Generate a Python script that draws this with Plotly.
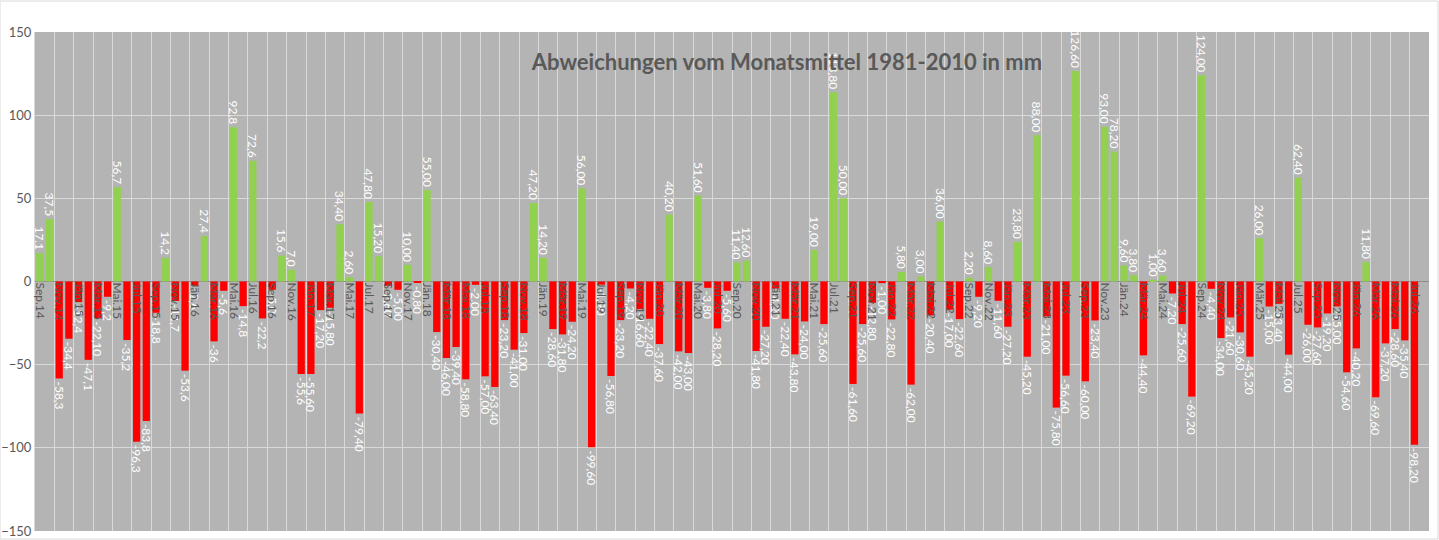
import plotly.graph_objects as go

# Monatsnamen (österreichisch)
monate = ["Jän", "Feb", "Mär", "Apr", "Mai", "Jun", "Jul", "Aug", "Sep", "Okt", "Nov", "Dez"]

# Abweichungen vom Monatsmittel 1981-2010 in mm
werte_2014 = [17.1, 37.5, -58.3, -34.4]  # ab Sep
werte_2015 = [-12.4, -47.1, -22.1, -9.2, 56.7, -35.2, -96.3, -83.8, -18.8, 14.2, -11.7, -53.6]
werte_2016 = [-2.6, 27.4, -36.0, -5.6, 92.8, -14.8, 72.6, -22.2, -5.0, 15.6, 7.0, -55.6]
werte_2017 = [-55.6, -17.2, -15.8, 34.4, 2.6, -79.4, 47.8, 15.2, -2.6, -5.0, 10.0, -0.8]
werte_2018 = [55.0, -30.4, -46.0, -39.4, -58.8, -2.0, -57.0, -63.4, -23.2, -41.0, -31.0, 47.2]
werte_2019 = [14.2, -28.6, -31.8, -24.2, 56.0, -99.6, -1.9, -56.8, -23.2, -4.2, -16.6, -22.4]
werte_2020 = [-37.6, 40.2, -42.0, -43.0, 51.6, -3.8, -28.2, -5.6, 11.4, 12.6, -41.8, -27.2]
werte_2021 = [-4.2, -22.4, -43.8, -24.0, 19.0, -25.6, 113.8, 50.0, -61.6, -25.6, -12.8, -1.0]
werte_2022 = [-22.8, 5.8, -62.0, 3.0, -20.4, 36.0, -17.0, -22.6, 2.2, -9.2, 8.6, -11.6]
werte_2023 = [-27.2, 23.8, -45.2, 88.0, -21.0, -75.8, -56.6, 126.6, -60.0, -23.4, 93.0, 78.2]
werte_2024 = [9.6, 3.8, -44.4, 1.0, 3.6, -7.2, -25.6, -69.2, 124.0, -4.4, -34.0, -21.6]
werte_2025 = [-30.6, -45.2, 26.0, -15.0, -13.4, -44.0, 62.4, -26.0, -27.6, -19.2, -15.0, -54.6]
werte_2026 = [-40.2, 11.8, -69.6, -37.2, -28.6, -35.4, -98.2]  # bis Jul

werte = (werte_2014 + werte_2015 + werte_2016 + werte_2017 + werte_2018 + werte_2019
         + werte_2020 + werte_2021 + werte_2022 + werte_2023 + werte_2024 + werte_2025 + werte_2026)

# Kategorien Sep.14 .. Aug.26 (letzter Monat noch leer)
kategorien = []
for i in range(144):
    m = (8 + i) % 12
    j = 14 + (8 + i) // 12
    kategorien.append(f"{monate[m]}.{j}")

# Beschriftung: bis Dez.16 eine Nachkommastelle, danach zwei
nachkomma = [1] * 28 + [2] * (len(werte) - 28)
sonder = {6: "-22,10", 18: "-36"}
beschriftung = []
for i, v in enumerate(werte):
    if i in sonder:
        beschriftung.append(sonder[i])
    else:
        beschriftung.append(f"{v:.{nachkomma[i]}f}".replace(".", ","))

farben = ["#92D050" if v >= 0 else "#FF0000" for v in werte]
x = list(range(len(werte)))

tick_pos = list(range(0, 144, 2))
tick_txt = [kategorien[i] for i in tick_pos]

fig = go.Figure()
fig.add_trace(go.Bar(
    x=x,
    y=werte,
    marker=dict(color=farben, line=dict(width=0)),
    text=beschriftung,
    textposition="outside",
    textangle=90,
    constraintext="none",
    cliponaxis=False,
    textfont=dict(family="Lato", size=12, color="white"),
    hoverinfo="x+y",
    showlegend=False,
))

fig.update_layout(
    width=1439,
    height=540,
    margin=dict(l=35, r=10, t=32, b=9),
    paper_bgcolor="white",
    plot_bgcolor="#b4b4b4",
    bargap=0.25,
    title=dict(
        text="Abweichungen vom Monatsmittel 1981-2010 in mm",
        x=787 / 1439, xanchor="center",
        y=1 - 62 / 540, yanchor="middle",
        font=dict(family="Lato", size=22, color="#595959", weight="bold"),
    ),
    # heller Rahmen um das ganze Diagramm
    shapes=[dict(type="rect", xref="paper", yref="paper",
                 x0=-35 / 1394, x1=1 + 9 / 1394, y0=-8 / 499, y1=1 + 31 / 499,
                 line=dict(color="#d9d9d9", width=1), layer="below")],
)

fig.update_xaxes(
    range=[-0.5, 143.5],
    anchor="free",
    position=0.5,
    tickmode="array",
    tickvals=tick_pos,
    ticktext=tick_txt,
    tickangle=90,
    tickfont=dict(family="Lato", size=12, color="#595959"),
    ticks="",
    showgrid=False,
    showline=False,
    zeroline=False,
    automargin=False,
    minor=dict(
        tickvals=[p - 0.5 for p in range(0, 146, 2)],
        showgrid=True,
        gridcolor="#d9d9d9",
        gridwidth=1,
    ),
)

fig.update_yaxes(
    range=[-150, 150],
    tickvals=[-150, -100, -50, 0, 50, 100, 150],
    tickfont=dict(family="Lato", size=13, color="#595959"),
    gridcolor="#d9d9d9",
    gridwidth=1,
    zeroline=True,
    zerolinecolor="#8c8c8c",
    zerolinewidth=1,
    showline=True,
    linecolor="#d9d9d9",
    automargin=False,
)

# body-Rand entfernen, damit das Bild genau ins Fenster passt
fig.write_html("out.html", config={"displayModeBar": False},
               post_script="document.body.style.margin='0';")
